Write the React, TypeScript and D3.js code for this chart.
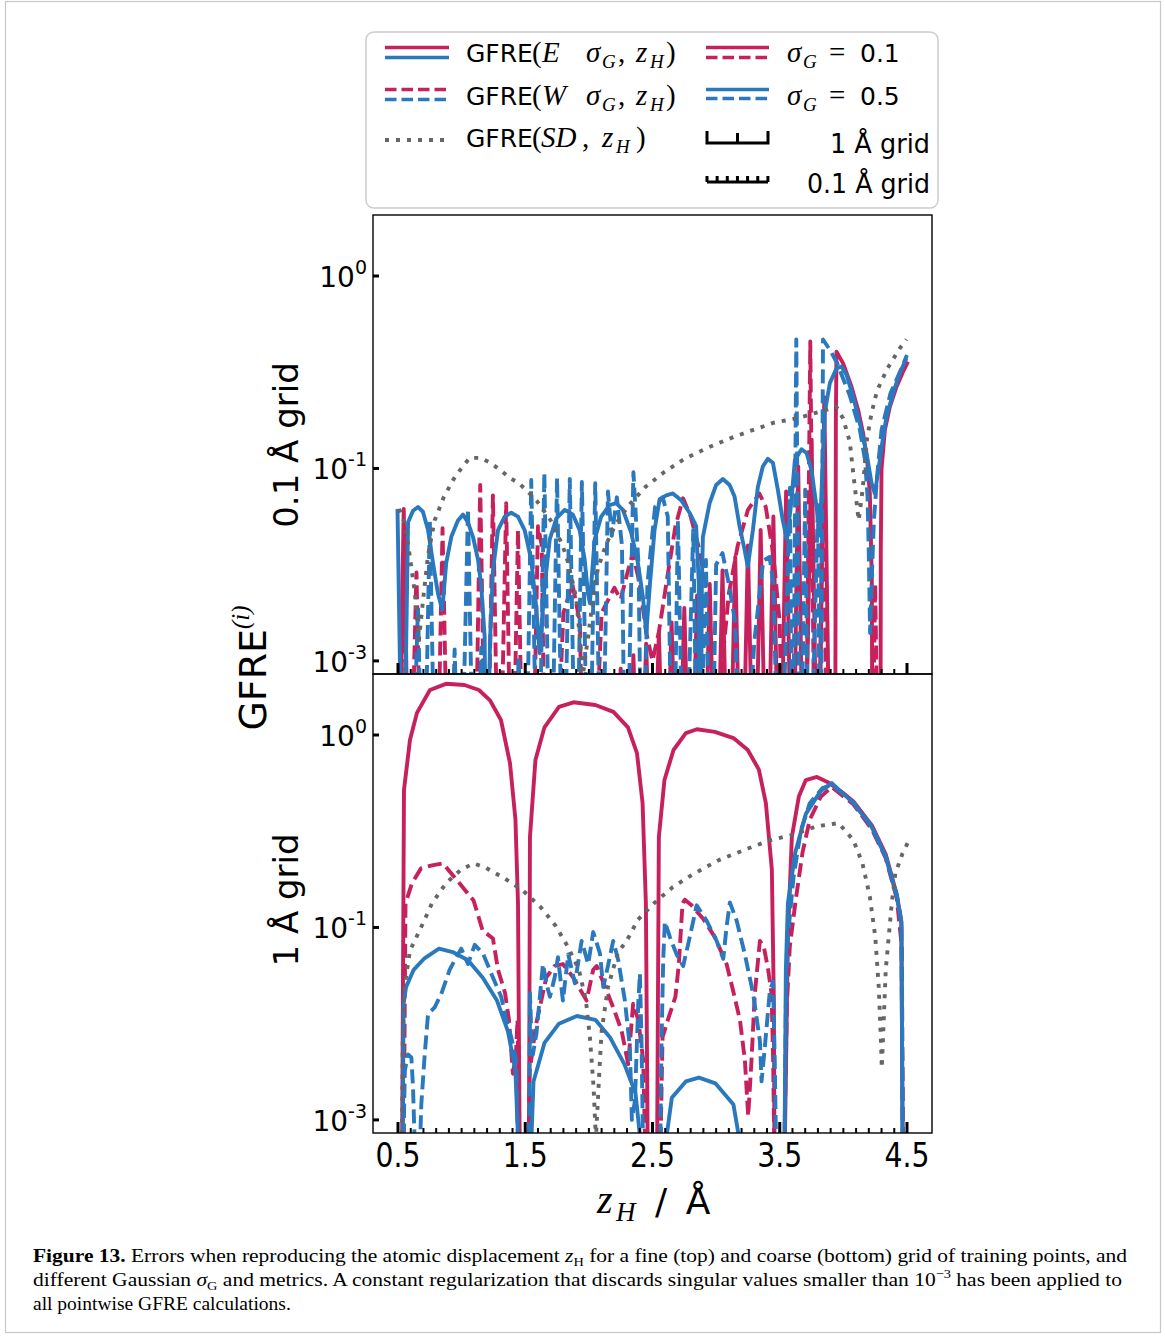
import React from 'react';
import * as d3 from 'd3';

type Pt = [number, number];

const SANS = "'DejaVu Sans', 'Liberation Sans', sans-serif";
const SERIF = "'Liberation Serif', 'DejaVu Serif', serif";
const RED = '#C7215D';
const BLUE = '#2A78BE';
const GRAY = '#666666';
const DASH = '14 6';
const DOT = '4 7';
const LEG_DASH = '11.5 5';

// ---------- axis ticks / labels ----------
const xMajorTicks = [0.5, 1.5, 2.5, 3.5, 4.5];
const xTickLabels = ['0.5', '1.5', '2.5', '3.5', '4.5'];
const yTickPositions = [0, -1, -2]; // log10 units on the drawn axis
const yTickExponents = ['0', '-1', '-3'];
const panelLabels = ['0.1 Å grid', '1 Å grid'];

// ---------- top panel (0.1 Å grid) : values are log10(GFRE) ----------
const topSD_x = [0.508, 0.545, 0.579, 0.604, 0.631, 0.649, 0.665, 0.696, 0.736, 0.788, 0.859, 0.95, 1.063, 1.146, 1.225, 1.307, 1.382, 1.456, 1.527, 1.592, 1.647, 1.7, 1.744, 1.783, 1.814, 1.841, 1.861, 1.883, 1.901, 1.919, 1.935, 1.949, 1.967, 1.993, 2.014, 2.04, 2.071, 2.132, 2.21, 2.315, 2.446, 2.59, 2.752, 2.917, 3.092, 3.268, 3.454, 3.632, 3.815, 3.946, 3.998, 4.05, 4.082, 4.103, 4.111, 4.121, 4.153, 4.187, 4.221, 4.265, 4.344, 4.443, 4.496];
const topSD_log = [-1.21, -1.27, -1.39, -1.51, -1.64, -1.76, -1.89, -1.69, -1.45, -1.27, -1.15, -1.04, -0.945, -0.945, -0.97, -1.01, -1.05, -1.08, -1.126, -1.17, -1.22, -1.27, -1.33, -1.385, -1.44, -1.5, -1.56, -1.62, -1.68, -1.81, -1.93, -2.1, -2.0, -1.88, -1.77, -1.64, -1.52, -1.4, -1.29, -1.19, -1.095, -1.02, -0.95, -0.897, -0.848, -0.805, -0.762, -0.74, -0.705, -0.68, -0.74, -0.86, -1.05, -1.17, -1.22, -1.27, -1.1, -0.843, -0.713, -0.596, -0.483, -0.376, -0.329];

const topE05_x = [0.496, 0.539, 0.579, 0.618, 0.657, 0.696, 0.736, 0.775, 0.814, 0.848, 0.879, 0.919, 0.971, 1.011, 1.05, 1.089, 1.129, 1.154, 1.181, 1.195, 1.223, 1.246, 1.286, 1.338, 1.39, 1.443, 1.495, 1.547, 1.586, 1.613, 1.652, 1.692, 1.744, 1.81, 1.875, 1.927, 1.967, 1.993, 2.008, 2.045, 2.097, 2.163, 2.215, 2.267, 2.333, 2.385, 2.425, 2.451, 2.48, 2.516, 2.556, 2.608, 2.66, 2.725, 2.791, 2.843, 2.864, 2.876, 2.888, 2.896, 2.949, 3.0, 3.053, 3.106, 3.145, 3.184, 3.223, 3.249, 3.289, 3.328, 3.367, 3.406, 3.446, 3.485, 3.524, 3.556, 3.59, 3.619, 3.671, 3.711, 3.75, 3.789, 3.815, 3.854, 3.894, 3.946, 3.985, 4.025, 4.077, 4.129, 4.182, 4.221, 4.247, 4.273, 4.3, 4.339, 4.391, 4.443, 4.496];
const topE05_log = [-1.21, -3, -1.28, -1.22, -1.2, -1.225, -1.32, -1.49, -1.65, -1.735, -1.49, -1.355, -1.27, -1.24, -1.28, -1.355, -1.475, -1.61, -1.875, -3, -1.9, -1.53, -1.32, -1.25, -1.23, -1.25, -1.32, -1.475, -1.72, -1.96, -1.615, -1.37, -1.26, -1.215, -1.24, -1.32, -1.475, -1.65, -1.7, -1.37, -1.25, -1.19, -1.18, -1.215, -1.335, -1.49, -1.67, -1.855, -1.6, -1.32, -1.16, -1.14, -1.13, -1.165, -1.23, -1.3, -1.6, -3, -1.6, -1.355, -1.18, -1.086, -1.055, -1.086, -1.146, -1.3, -1.42, -1.51, -1.32, -1.096, -0.99, -0.95, -0.97, -1.11, -1.27, -1.37, -1.18, -0.956, -0.9, -0.92, -1.01, -1.2, -1.335, -0.71, -0.556, -0.48, -0.47, -0.514, -0.627, -0.764, -0.92, -1.075, -1.13, -1.02, -0.89, -0.73, -0.61, -0.505, -0.427];

const topE01_x = [0.5, 0.545, 0.59, 2.2, 2.25, 2.3, 2.35, 2.4, 2.45, 2.5, 2.55, 2.6, 2.65, 2.7, 2.75, 2.8, 2.85, 2.9, 2.95, 3.0, 3.05, 3.1, 3.15, 3.2, 3.25, 3.3, 3.35, 3.4, 3.45, 3.5, 3.55, 3.6, 3.645, 3.69, 3.75, 3.8, 3.85, 3.9, 3.935, 3.941, 3.946, 3.998, 4.064, 4.116, 4.155, 4.187, 4.208, 4.216, 4.224, 4.229, 4.291, 4.294, 4.3, 4.326, 4.365, 4.418, 4.469, 4.508];
const topE01_log = [-3, -1.21, -3, -3, -2.04, -3, -1.97, -3, -1.91, -3, -1.85, -3, -1.8, -3, -1.725, -3, -1.66, -3, -1.6, -3, -1.53, -3, -1.46, -3, -1.4, -3, -1.32, -3, -1.25, -3, -1.12, -3, -0.99, -3, -0.85, -3, -0.63, -3, -3, -0.75, -0.393, -0.454, -0.575, -0.696, -0.817, -0.956, -1.13, -1.354, -1.61, -3, -3, -1.44, -1.0, -0.8, -0.68, -0.575, -0.497, -0.445];

const topW01: Pt[] = [[0.5, -3], [0.545, -1.53], [0.59, -3], [0.645, -1.54], [0.69, -3], [0.8, -3], [0.85, -1.31], [0.9, -3], [1.1, -3], [1.146, -1.086], [1.195, -3], [1.246, -1.14], [1.295, -3], [1.35, -1.18], [1.395, -3], [1.443, -1.32], [1.49, -3], [1.55, -3], [1.6, -1.3], [1.63, -1.4], [1.66, -3], [1.72, -3], [1.8, -1.75], [1.87, -1.6], [1.93, -1.8], [1.96, -3], [2.02, -3], [2.1, -1.75], [2.2, -1.62], [2.25, -1.68], [2.3, -1.55], [2.345, -1.44], [2.4, -1.6], [2.45, -1.85], [2.5, -2.0], [2.55, -1.85], [2.62, -1.55], [2.68, -1.3], [2.74, -1.155], [2.8, -1.25], [2.86, -1.4], [2.92, -1.6], [2.97, -2.1], [3.0, -3], [3.05, -2.0], [3.1, -1.65], [3.17, -1.4], [3.25, -1.215], [3.34, -1.13], [3.39, -1.2], [3.45, -1.45], [3.5, -1.8], [3.53, -3], [3.7, -3], [3.74, -0.34], [3.78, -3], [3.8, -3], [3.84, -0.9], [3.88, -3], [4.22, -3], [4.25, -1.6], [4.28, -3]];

const topW05: Pt[] = [[0.5, -3], [0.6, -3], [0.657, -1.72], [0.7, -3], [0.75, -1.27], [0.8, -3], [0.9, -3], [0.945, -1.94], [0.99, -3], [1.05, -1.21], [1.1, -3], [1.155, -1.93], [1.2, -3], [1.4, -3], [1.448, -1.98], [1.5, -3], [1.547, -1.06], [1.6, -3], [1.65, -1.025], [1.7, -3], [1.75, -1.05], [1.8, -3], [1.85, -1.055], [1.9, -3], [1.945, -1.07], [2.0, -3], [2.05, -1.076], [2.1, -3], [2.15, -1.12], [2.18, -1.35], [2.22, -1.15], [2.26, -1.4], [2.29, -3], [2.35, -1.02], [2.39, -1.5], [2.42, -3], [2.46, -1.6], [2.52, -1.2], [2.58, -1.15], [2.62, -1.25], [2.66, -3], [2.7, -1.27], [2.75, -3], [2.82, -1.32], [2.86, -3], [2.92, -1.475], [2.96, -3], [3.0, -1.5], [3.05, -1.44], [3.1, -1.6], [3.15, -1.8], [3.2, -3], [3.3, -1.9], [3.37, -1.48], [3.42, -1.46], [3.45, -1.6], [3.5, -3], [3.58, -1.1], [3.6, -3], [3.63, -0.33], [3.66, -3], [3.7, -1.11], [3.73, -3], [3.8, -1.18], [3.82, -3], [3.84, -0.33], [3.9, -0.39], [3.95, -0.452], [4.05, -0.62], [4.13, -0.8], [4.17, -0.956], [4.19, -1.146], [4.2, -1.45], [4.21, -1.855], [4.225, -1.54], [4.24, -1.27], [4.265, -1.04], [4.3, -0.8], [4.37, -0.61], [4.45, -0.49], [4.5, -0.41]];

// ---------- bottom panel (1 Å grid) : values are log10(GFRE) ----------
const botE01: Pt[] = [[0.531, -2.3], [0.547, -0.286], [0.594, -0.026], [0.649, 0.115], [0.751, 0.234], [0.877, 0.266], [1.022, 0.26], [1.136, 0.234], [1.223, 0.18], [1.309, 0.078], [1.38, -0.146], [1.423, -0.44], [1.443, -0.875], [1.458, -2.3],
  [1.529, -2.3], [1.537, -0.53], [1.58, -0.13], [1.651, 0.04], [1.765, 0.146], [1.879, 0.17], [2.051, 0.156], [2.193, 0.12], [2.307, 0.04], [2.378, -0.094], [2.422, -0.354], [2.448, -0.875], [2.464, -2.3],
  [2.535, -2.3], [2.55, -0.53], [2.594, -0.234], [2.665, -0.078], [2.762, 0.01], [2.849, 0.03], [2.99, 0.016], [3.136, -0.016], [3.249, -0.078], [3.336, -0.18], [3.391, -0.354], [3.438, -0.7], [3.454, -1.4], [3.459, -2.3],
  [3.536, -2.3], [3.564, -1.05], [3.595, -0.53], [3.65, -0.32], [3.705, -0.234], [3.792, -0.218], [3.878, -0.245], [3.996, -0.3], [4.079, -0.345], [4.224, -0.47], [4.333, -0.62], [4.42, -0.83], [4.456, -0.97], [4.467, -2.3]];

const botE05: Pt[] = [[0.537, -2.3], [0.543, -1.4], [0.563, -1.31], [0.623, -1.22], [0.708, -1.16], [0.822, -1.11], [0.937, -1.13], [1.05, -1.17], [1.165, -1.26], [1.278, -1.38], [1.364, -1.54], [1.423, -1.745], [1.455, -2.3],
  [1.537, -2.3], [1.565, -1.8], [1.651, -1.6], [1.765, -1.5], [1.906, -1.46], [2.051, -1.48], [2.165, -1.57], [2.279, -1.71], [2.366, -1.86], [2.436, -2.3],
  [2.566, -2.3], [2.652, -1.885], [2.762, -1.8], [2.865, -1.78], [2.994, -1.81], [3.136, -1.92], [3.234, -2.3],
  [3.536, -2.3], [3.548, -1.22], [3.564, -0.875], [3.622, -0.61], [3.705, -0.41], [3.823, -0.29], [3.909, -0.25], [4.079, -0.354], [4.224, -0.48], [4.333, -0.635], [4.42, -0.84], [4.456, -0.98], [4.467, -2.3]];

const botSD: Pt[] = [[0.53, -2.3], [0.537, -1.6], [0.551, -1.31], [0.594, -1.12], [0.681, -1.0], [0.767, -0.875], [0.877, -0.77], [0.995, -0.7], [1.094, -0.667], [1.191, -0.69], [1.337, -0.745], [1.48, -0.807], [1.623, -0.896], [1.737, -0.99], [1.835, -1.1], [1.922, -1.22], [1.977, -1.38], [2.008, -1.57], [2.037, -1.83], [2.055, -2.1], [2.087, -1.69], [2.1, -1.54], [2.15, -1.31], [2.228, -1.13], [2.297, -1.07], [2.385, -0.96], [2.519, -0.87], [2.66, -0.79], [2.817, -0.724], [3.021, -0.65], [3.249, -0.59], [3.422, -0.547], [3.595, -0.52], [3.79, -0.474], [3.963, -0.458], [4.079, -0.547], [4.15, -0.667], [4.208, -0.84], [4.251, -1.05], [4.278, -1.31], [4.294, -1.57], [4.302, -1.73], [4.333, -1.22], [4.38, -0.875], [4.408, -0.72], [4.465, -0.615], [4.506, -0.56]];

const botW01: Pt[] = [[0.543, -2.3], [0.559, -0.875], [0.61, -0.77], [0.681, -0.693], [0.767, -0.677], [0.854, -0.667], [0.964, -0.755], [1.094, -0.86], [1.165, -1.016], [1.246, -1.057], [1.286, -1.22], [1.341, -1.34], [1.372, -1.48], [1.403, -1.76], [1.427, -1.66], [1.439, -1.48], [1.458, -2.3],
  [1.521, -2.3], [1.535, -1.745], [1.586, -1.5], [1.626, -1.38], [1.665, -1.26], [1.731, -1.2], [1.796, -1.19], [1.877, -1.26], [1.982, -1.38], [2.034, -1.22], [2.061, -1.2], [2.113, -1.285], [2.191, -1.415], [2.257, -1.536], [2.309, -1.71], [2.348, -1.396], [2.388, -1.48], [2.427, -1.69], [2.448, -2.3],
  [2.558, -2.3], [2.579, -1.57], [2.621, -1.48], [2.68, -1.36], [2.707, -1.19], [2.736, -0.875], [2.754, -0.856], [2.807, -0.885], [2.898, -0.955], [2.99, -1.05], [3.082, -1.19], [3.134, -1.33], [3.187, -1.48], [3.226, -1.69], [3.252, -1.98], [3.278, -1.69], [3.304, -1.345], [3.344, -1.07], [3.375, -1.1], [3.409, -1.22], [3.436, -1.345], [3.448, -1.69], [3.461, -2.3],
  [3.532, -2.3], [3.556, -1.4], [3.579, -1.1], [3.622, -0.875], [3.679, -0.61], [3.736, -0.44], [3.823, -0.32], [3.909, -0.27], [4.079, -0.36], [4.224, -0.49], [4.333, -0.64], [4.42, -0.85], [4.459, -1.1], [4.471, -2.3]];

const botW05: Pt[] = [[0.539, -2.3], [0.553, -1.745], [0.579, -1.66], [0.605, -1.675], [0.618, -1.83], [0.639, -2.3], [0.665, -2.3], [0.683, -1.92], [0.71, -1.66], [0.736, -1.45], [0.788, -1.415], [0.84, -1.345], [0.906, -1.22], [0.958, -1.155], [0.997, -1.11], [1.05, -1.19], [1.103, -1.09], [1.168, -1.135], [1.246, -1.26], [1.311, -1.36], [1.351, -1.48], [1.39, -1.57], [1.429, -1.69], [1.448, -2.3],
  [1.529, -2.3], [1.537, -1.34], [1.549, -1.57], [1.56, -1.66], [1.588, -1.55], [1.639, -1.19], [1.67, -1.3], [1.694, -1.36], [1.731, -1.26], [1.757, -1.155], [1.796, -1.38], [1.838, -1.14], [1.89, -1.29], [1.943, -1.07], [1.995, -1.19], [2.034, -1.024], [2.087, -1.135], [2.113, -1.31], [2.15, -1.2], [2.191, -1.07], [2.231, -1.17], [2.283, -1.38], [2.322, -1.62], [2.338, -2.0], [2.362, -1.9], [2.388, -1.396], [2.401, -1.24], [2.414, -1.6], [2.429, -2.3],
  [2.558, -2.3], [2.571, -1.6], [2.584, -1.17], [2.597, -0.97], [2.637, -1.05], [2.689, -1.14], [2.741, -1.2], [2.781, -1.085], [2.847, -0.885], [2.925, -0.964], [3.004, -1.07], [3.056, -1.163], [3.082, -0.998], [3.108, -0.87], [3.161, -0.964], [3.226, -1.14], [3.291, -1.345], [3.344, -1.59], [3.357, -1.8], [3.383, -1.62], [3.422, -1.33], [3.448, -1.28], [3.461, -1.7], [3.475, -2.3],
  [3.536, -2.3], [3.548, -1.4], [3.564, -1.05], [3.608, -0.74], [3.666, -0.495], [3.736, -0.354], [3.836, -0.276], [3.909, -0.26], [4.079, -0.35], [4.224, -0.475], [4.333, -0.63], [4.42, -0.83], [4.456, -0.97], [4.467, -2.3]];

const zipPts = (xs: number[], ys: number[]): Pt[] => xs.map((v, i) => [v, ys[i]] as Pt);

type Series = { data: Pt[]; color: string; dash?: string };

export default function App() {
  const x = d3.scaleLinear().domain([0.3035, 4.6965]).range([373, 932]);
  const minorTicks = d3.range(5, 46).map((i) => i / 10).filter((v) => !xMajorTicks.some((m) => Math.abs(m - v) < 1e-6));

  const topSeries: Series[] = [
    { data: zipPts(topE01_x, topE01_log), color: RED },
    { data: topW01, color: RED, dash: DASH },
    { data: zipPts(topE05_x, topE05_log), color: BLUE },
    { data: topW05, color: BLUE, dash: DASH },
    { data: zipPts(topSD_x, topSD_log), color: GRAY, dash: DOT },
  ];
  const botSeries: Series[] = [
    { data: botE01, color: RED },
    { data: botW01, color: RED, dash: DASH },
    { data: botE05, color: BLUE },
    { data: botW05, color: BLUE, dash: DASH },
    { data: botSD, color: GRAY, dash: DOT },
  ];

  const panels = [
    { id: 'top', y0: 215, y1: 674, label: panelLabels[0], labelY: 445, series: topSeries },
    { id: 'bot', y0: 674, y1: 1133, label: panelLabels[1], labelY: 900, series: botSeries },
  ];

  const LW = 3.9;
  const MF = 29; // math font size in legend
  const SUB = 19;

  return (
    <div style={{ position: 'absolute', left: 0, top: 0 }}>
      <svg width={1165} height={1336} viewBox="0 0 1165 1336" style={{ display: 'block', background: '#fff' }}>
        <rect x={0} y={0} width={1165} height={1336} fill="#fff" />
        <rect x={5.5} y={1.5} width={1155} height={1331} fill="none" stroke="#c8c8c8" strokeWidth={1.2} />
        <defs>
          {panels.map((p) => (
            <clipPath id={`clip-${p.id}`} key={p.id}>
              <rect x={373} y={p.y0} width={559} height={p.y1 - p.y0} />
            </clipPath>
          ))}
        </defs>

        {panels.map((p) => {
          const y = d3.scaleLinear().domain([-2.068, 0.317]).range([p.y1, p.y0]);
          const line = d3.line<Pt>().x((d) => x(d[0])).y((d) => y(d[1]));
          return (
            <g key={p.id}>
              <g clipPath={`url(#clip-${p.id})`}>
                {p.series.map((s, i) => (
                  <path key={i} d={line(s.data) || ''} fill="none" stroke={s.color} strokeWidth={LW}
                    strokeDasharray={s.dash} strokeLinejoin="round" />
                ))}
              </g>
              <rect x={373} y={p.y0} width={559} height={p.y1 - p.y0} fill="none" stroke="#000" strokeWidth={1.4} />
              {xMajorTicks.map((t) => (
                <line key={`M${t}`} x1={x(t)} x2={x(t)} y1={p.y1} y2={p.y1 - 11} stroke="#000" strokeWidth={3} />
              ))}
              {minorTicks.map((t) => (
                <line key={`m${t}`} x1={x(t)} x2={x(t)} y1={p.y1} y2={p.y1 - 5} stroke="#000" strokeWidth={2} />
              ))}
              {yTickPositions.map((t, i) => (
                <g key={`y${t}`}>
                  <line x1={373} x2={379} y1={y(t)} y2={y(t)} stroke="#000" strokeWidth={3} />
                  <text x={367} y={y(t) + 11} textAnchor="end" fontFamily={SANS} fontSize={28} fill="#000">
                    10<tspan fontSize={19} dy={-13}>{yTickExponents[i]}</tspan>
                  </text>
                </g>
              ))}
              <text transform={`translate(298,${p.labelY}) rotate(-90)`} textAnchor="middle" fontFamily={SANS}
                fontSize={34} fill="#000">{p.label}</text>
            </g>
          );
        })}

        {/* x tick labels */}
        {xMajorTicks.map((t, i) => (
          <text key={t} x={x(t)} y={1167} textAnchor="middle" fontFamily={SANS} fontSize={33} fill="#000"
            textLength={45} lengthAdjust="spacingAndGlyphs">{xTickLabels[i]}</text>
        ))}

        {/* x axis label */}
        <text x={597} y={1213} fontFamily={SERIF} fontStyle="italic" fontSize={40} fill="#000">z</text>
        <text x={616} y={1221} fontFamily={SERIF} fontStyle="italic" fontSize={27} fill="#000">H</text>
        <text x={661} y={1214} textAnchor="middle" fontFamily={SANS} fontSize={36} fill="#000">/</text>
        <text x={698} y={1214} textAnchor="middle" fontFamily={SANS} fontSize={36} fill="#000">Å</text>

        {/* GFRE^(i) */}
        <text transform="translate(266,668) rotate(-90)" textAnchor="middle" fontSize={38} fill="#000"
          textLength={125} lengthAdjust="spacingAndGlyphs">
          <tspan fontFamily={SANS}>GFRE</tspan>
          <tspan fontFamily={SERIF} fontStyle="italic" fontSize={25} dy={-17}>(i)</tspan>
        </text>

        {/* legend */}
        <rect x={366} y={32} width={572} height={176} rx={8} ry={8} fill="#fff" stroke="#cccccc" strokeWidth={1.5} />
        <line x1={385} x2={449} y1={47.5} y2={47.5} stroke={RED} strokeWidth={3.5} />
        <line x1={385} x2={449} y1={57.5} y2={57.5} stroke={BLUE} strokeWidth={3.5} />
        <line x1={385} x2={449} y1={89.5} y2={89.5} stroke={RED} strokeWidth={3.5} strokeDasharray={LEG_DASH} />
        <line x1={385} x2={449} y1={99.5} y2={99.5} stroke={BLUE} strokeWidth={3.5} strokeDasharray={LEG_DASH} />
        <line x1={385} x2={446} y1={140} y2={140} stroke={GRAY} strokeWidth={3.8} strokeDasharray={DOT} />
        <line x1={706} x2={769} y1={47.5} y2={47.5} stroke={RED} strokeWidth={3.5} />
        <line x1={706} x2={769} y1={57.5} y2={57.5} stroke={RED} strokeWidth={3.5} strokeDasharray={LEG_DASH} />
        <line x1={706} x2={769} y1={89.5} y2={89.5} stroke={BLUE} strokeWidth={3.5} />
        <line x1={706} x2={769} y1={98.5} y2={98.5} stroke={BLUE} strokeWidth={3.5} strokeDasharray={LEG_DASH} />
        <path d="M707,131 V143 H768 V131 M737.5,143 V133" fill="none" stroke="#000" strokeWidth={3} />
        <path d={`M707,182 H768 ${d3.range(7).map((i) => `M${707 + i * 10.15},182 V176`).join(' ')}`} fill="none" stroke="#000" strokeWidth={3} />

        {/* legend row 1 */}
        <text y={62} fontSize={MF} fill="#000">
          <tspan x={466} fontFamily={SANS} fontSize={25}>GFRE</tspan>
          <tspan x={532} fontFamily={SERIF}>(</tspan>
          <tspan x={542} fontFamily={SERIF} fontStyle="italic">E</tspan>
          <tspan x={586} fontFamily={SERIF} fontStyle="italic">σ</tspan>
          <tspan x={602} fontFamily={SERIF} fontStyle="italic" fontSize={SUB} dy={6}>G</tspan>
          <tspan x={618} fontFamily={SERIF} dy={-6}>,</tspan>
          <tspan x={636} fontFamily={SERIF} fontStyle="italic">z</tspan>
          <tspan x={650} fontFamily={SERIF} fontStyle="italic" fontSize={SUB} dy={6}>H</tspan>
          <tspan x={666} fontFamily={SERIF} dy={-6}>)</tspan>
        </text>
        {/* legend row 2 */}
        <text y={105} fontSize={MF} fill="#000">
          <tspan x={466} fontFamily={SANS} fontSize={25}>GFRE</tspan>
          <tspan x={532} fontFamily={SERIF}>(</tspan>
          <tspan x={542} fontFamily={SERIF} fontStyle="italic">W</tspan>
          <tspan x={586} fontFamily={SERIF} fontStyle="italic">σ</tspan>
          <tspan x={602} fontFamily={SERIF} fontStyle="italic" fontSize={SUB} dy={6}>G</tspan>
          <tspan x={618} fontFamily={SERIF} dy={-6}>,</tspan>
          <tspan x={636} fontFamily={SERIF} fontStyle="italic">z</tspan>
          <tspan x={650} fontFamily={SERIF} fontStyle="italic" fontSize={SUB} dy={6}>H</tspan>
          <tspan x={666} fontFamily={SERIF} dy={-6}>)</tspan>
        </text>
        {/* legend row 3 */}
        <text y={147} fontSize={MF} fill="#000">
          <tspan x={466} fontFamily={SANS} fontSize={25}>GFRE</tspan>
          <tspan x={532} fontFamily={SERIF}>(</tspan>
          <tspan x={541} fontFamily={SERIF} fontStyle="italic">SD</tspan>
          <tspan x={582} fontFamily={SERIF}>,</tspan>
          <tspan x={602} fontFamily={SERIF} fontStyle="italic">z</tspan>
          <tspan x={616} fontFamily={SERIF} fontStyle="italic" fontSize={SUB} dy={6}>H</tspan>
          <tspan x={636} fontFamily={SERIF} dy={-6}>)</tspan>
        </text>
        <text y={62} fontSize={MF} fill="#000">
          <tspan x={787} fontFamily={SERIF} fontStyle="italic">σ</tspan>
          <tspan x={803} fontFamily={SERIF} fontStyle="italic" fontSize={SUB} dy={6}>G</tspan>
          <tspan x={829} fontFamily={SERIF} dy={-6}>=</tspan>
          <tspan x={860} fontFamily={SANS} fontSize={25}>0.1</tspan>
        </text>
        <text y={105} fontSize={MF} fill="#000">
          <tspan x={787} fontFamily={SERIF} fontStyle="italic">σ</tspan>
          <tspan x={803} fontFamily={SERIF} fontStyle="italic" fontSize={SUB} dy={6}>G</tspan>
          <tspan x={829} fontFamily={SERIF} dy={-6}>=</tspan>
          <tspan x={860} fontFamily={SANS} fontSize={25}>0.5</tspan>
        </text>
        <text x={930} y={153} textAnchor="end" fontFamily={SANS} fontSize={27} fill="#000"
          textLength={100} lengthAdjust="spacingAndGlyphs">1 Å grid</text>
        <text x={930} y={193} textAnchor="end" fontFamily={SANS} fontSize={27} fill="#000"
          textLength={123} lengthAdjust="spacingAndGlyphs">0.1 Å grid</text>

        {/* caption */}
        <text x={33} y={1262} fontFamily={SERIF} fontSize={19.5} fill="#000" textLength={1094} lengthAdjust="spacingAndGlyphs">
          <tspan fontWeight="bold">Figure 13.</tspan>
          <tspan>{' Errors when reproducing the atomic displacement '}</tspan>
          <tspan fontStyle="italic">z</tspan>
          <tspan fontSize={13} dy={4}>H</tspan>
          <tspan dy={-4}>{' for a fine (top) and coarse (bottom) grid of training points, and'}</tspan>
        </text>
        <text x={33} y={1286} fontFamily={SERIF} fontSize={19.5} fill="#000" textLength={1089} lengthAdjust="spacingAndGlyphs">
          <tspan>{'different Gaussian '}</tspan>
          <tspan fontStyle="italic">σ</tspan>
          <tspan fontSize={13} dy={4}>G</tspan>
          <tspan dy={-4}>{' and metrics. A constant regularization that discards singular values smaller than 10'}</tspan>
          <tspan fontSize={13} dy={-8}>−3</tspan>
          <tspan dy={8}>{' has been applied to'}</tspan>
        </text>
        <text x={33} y={1310} fontFamily={SERIF} fontSize={19.5} fill="#000">all pointwise GFRE calculations.</text>
      </svg>
    </div>
  );
}
